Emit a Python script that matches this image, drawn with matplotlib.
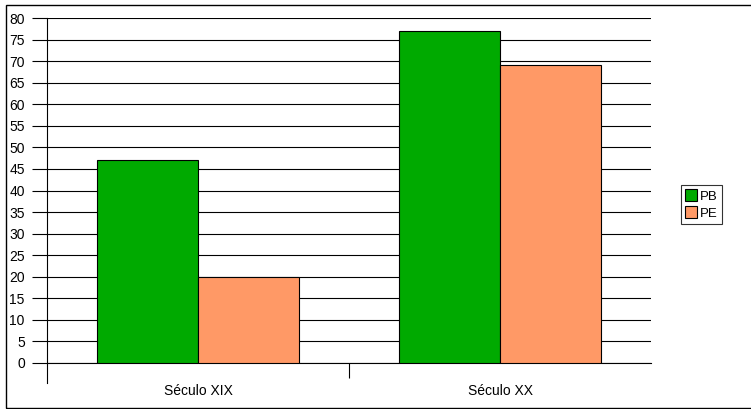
import numpy as np
import matplotlib.pyplot as plt
from matplotlib.patches import Rectangle

categories = ['Século XIX', 'Século XX']
pb = [47, 77]
pe = [20, 69]
series_names = ['PB', 'PE']

plt.rcParams['font.family'] = ['Liberation Sans', 'DejaVu Sans']

W, H = 751, 409
fig = plt.figure(figsize=(W / 100, H / 100), dpi=100)
ax = fig.add_axes([47 / W, 1 - 363 / H, (651 - 47) / W, (363 - 18) / H])

# outer frame, its right edge runs off the image
fig.patches.append(Rectangle((5.5 / W, 1.5 / H), 760 / W, 402.5 / H, transform=fig.transFigure,
                             fill=False, edgecolor='black', linewidth=1))

x = np.arange(len(categories))
w = 1 / 3
ax.bar(x - w / 2, pb, w, color='#00AA00', edgecolor='black', linewidth=0.8, label=series_names[0], zorder=3)
ax.bar(x + w / 2, pe, w, color='#FF9966', edgecolor='black', linewidth=0.8, label=series_names[1], zorder=3)

ax.set_xlim(-0.5, len(categories) - 0.5)
ax.set_ylim(0, 80)
ax.set_yticks(range(0, 81, 5))
ax.yaxis.grid(True, color='black', linewidth=0.8, zorder=0)
ax.set_axisbelow(True)

# category separators
ax.set_xticks(x[:-1] + 0.5)
ax.set_xticklabels([])
ax.set_xticks(x, minor=True)
ax.set_xticklabels(categories, minor=True)
ax.tick_params(axis='x', which='major', length=11, direction='out', width=0.8)
ax.tick_params(axis='x', which='minor', length=0, pad=15, labelsize=10)
ax.tick_params(axis='y', length=11, width=0.8, labelsize=10, pad=5)

# left axis line runs a little below the x axis
ax.plot([0, 0], [0, -20 / 345], transform=ax.transAxes, color='black', linewidth=0.8, clip_on=False)

for s in ['top', 'right']:
    ax.spines[s].set_visible(False)
ax.spines['left'].set_linewidth(0.8)
ax.spines['bottom'].set_linewidth(0.8)

leg = ax.legend(loc='center left', bbox_to_anchor=((681 - 47) / 604, 0.5 - 14 / 345), fontsize=9.5,
                frameon=True, fancybox=False, edgecolor='black', handlelength=0.95,
                handleheight=0.95, handletextpad=0.2, borderpad=0.3, labelspacing=0.3,
                borderaxespad=0)
leg.get_frame().set_linewidth(0.8)

fig.savefig('out.png', dpi=100)
